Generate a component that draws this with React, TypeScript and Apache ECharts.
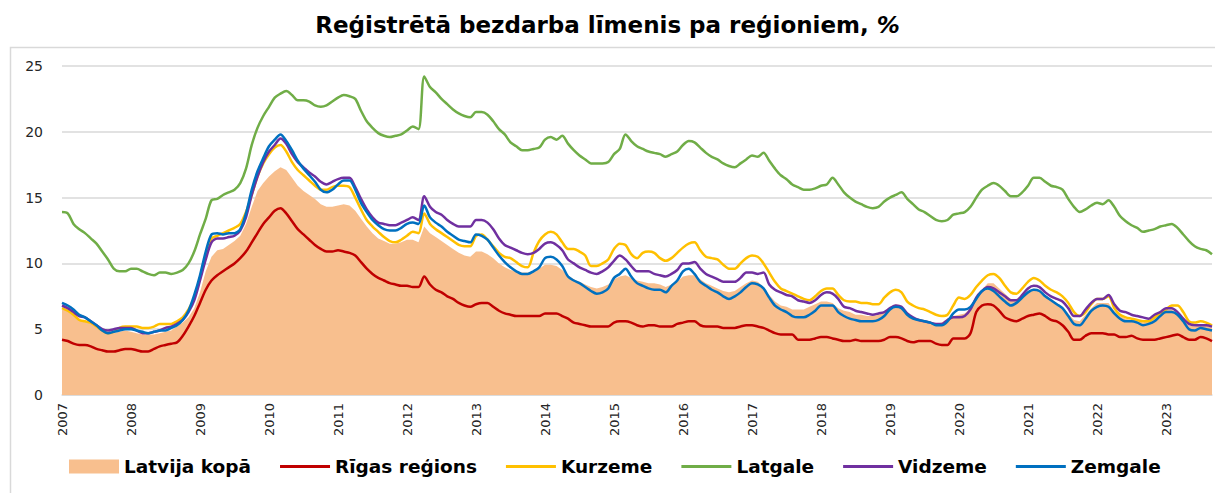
import React, { useEffect, useRef } from 'react';
import * as echarts from 'echarts';

const years = [2007, 2008, 2009, 2010, 2011, 2012, 2013, 2014, 2015, 2016, 2017, 2018, 2019, 2020, 2021, 2022, 2023];
const monthsInLastYear = 9;
const yTicks = { min: 0, max: 25, interval: 5 };

const latvijaKopa = [
  6.5, 6.5, 6.2, 5.8, 5.6, 5.5, 5.2, 4.9, 4.7, 4.7, 4.8, 4.9,
  4.8, 4.7, 4.6, 4.6, 4.6, 4.7, 4.8, 4.9, 5.2, 5.5, 5.9, 6.6,
  7.8, 9.4, 10.5, 11.0, 11.1, 11.4, 11.7, 12.1, 13.0, 14.3, 15.5, 16.1,
  16.6, 17.0, 17.3, 17.1, 16.5, 15.9, 15.5, 15.2, 14.9, 14.5, 14.3, 14.3,
  14.4, 14.5, 14.4, 14.0, 13.4, 12.8, 12.3, 11.9, 11.7, 11.5, 11.5, 11.6,
  11.8, 11.8, 11.6, 12.8, 12.3, 12.0, 11.7, 11.4, 11.1, 10.8, 10.6, 10.5,
  10.9, 10.9, 10.7, 10.4, 10.0, 9.7, 9.5, 9.4, 9.3, 9.3, 9.4, 9.6,
  9.9, 9.9, 9.8, 9.5, 9.1, 8.8, 8.6, 8.4, 8.2, 8.1, 8.2, 8.4,
  8.8, 9.0, 9.1, 8.9, 8.7, 8.6, 8.5, 8.5, 8.4, 8.2, 8.4, 8.6,
  9.0, 9.1, 9.1, 8.8, 8.5, 8.3, 8.1, 7.9, 7.8, 7.9, 8.2, 8.5,
  8.7, 8.6, 8.2, 7.6, 7.1, 6.8, 6.7, 6.5, 6.5, 6.5, 6.7, 6.9,
  7.1, 7.1, 7.0, 6.6, 6.4, 6.3, 6.1, 6.1, 6.0, 6.0, 6.1, 6.3,
  6.7, 6.9, 6.8, 6.2, 5.9, 5.8, 5.7, 5.6, 5.4, 5.5, 5.8, 6.0,
  6.1, 6.2, 6.6, 7.4, 8.0, 8.5, 8.5, 8.1, 7.7, 7.3, 7.3, 7.6,
  7.9, 8.1, 8.0, 7.6, 7.3, 7.0, 6.7, 6.2, 5.7, 5.6, 6.1, 6.6,
  7.0, 7.0, 7.0, 6.4, 6.0, 5.8, 5.7, 5.6, 5.5, 5.7, 5.9, 6.3,
  6.5, 6.5, 6.2, 5.7, 5.3, 5.2, 5.3, 5.3, 5.2,
];

const rigasRegions = [
  4.2, 4.1, 3.9, 3.8, 3.8, 3.7, 3.5, 3.4, 3.3, 3.3, 3.4, 3.5,
  3.5, 3.4, 3.3, 3.3, 3.5, 3.7, 3.8, 3.9, 4.0, 4.5, 5.2, 6.0,
  7.0, 8.0, 8.7, 9.1, 9.4, 9.7, 10.0, 10.4, 10.9, 11.6, 12.3, 13.0,
  13.5, 14.0, 14.2, 13.8, 13.2, 12.6, 12.2, 11.8, 11.4, 11.1, 10.9, 10.9,
  11.0, 10.9, 10.8, 10.6, 10.1, 9.6, 9.2, 8.9, 8.7, 8.5, 8.4, 8.3,
  8.3, 8.2, 8.2, 9.0, 8.4, 8.0, 7.8, 7.5, 7.3, 7.0, 6.8, 6.7,
  6.9, 7.0, 7.0, 6.7, 6.4, 6.2, 6.1, 6.0, 6.0, 6.0, 6.0, 6.0,
  6.2, 6.2, 6.2, 6.0, 5.8, 5.5, 5.4, 5.3, 5.2, 5.2, 5.2, 5.2,
  5.5, 5.6, 5.6, 5.5, 5.3, 5.2, 5.3, 5.3, 5.2, 5.2, 5.2, 5.4,
  5.5, 5.6, 5.6, 5.3, 5.2, 5.2, 5.2, 5.1, 5.1, 5.1, 5.2, 5.3,
  5.3, 5.2, 5.1, 4.9, 4.7, 4.6, 4.6, 4.6, 4.2, 4.2, 4.2, 4.3,
  4.4, 4.4, 4.3, 4.2, 4.1, 4.1, 4.2, 4.1, 4.1, 4.1, 4.1, 4.2,
  4.4, 4.4, 4.3, 4.1, 4.0, 4.1, 4.1, 4.1, 3.9, 3.8, 3.8, 4.3,
  4.3, 4.3, 4.7, 6.3, 6.8, 6.9, 6.8, 6.4, 5.9, 5.7, 5.6, 5.8,
  6.0, 6.1, 6.2, 6.0, 5.7, 5.6, 5.3, 4.8, 4.2, 4.2, 4.5, 4.7,
  4.7, 4.7, 4.6, 4.6, 4.4, 4.4, 4.5, 4.3, 4.2, 4.2, 4.2, 4.3,
  4.4, 4.5, 4.6, 4.4, 4.2, 4.2, 4.4, 4.3, 4.1,
];

const kurzeme = [
  6.6, 6.4, 6.1, 5.7, 5.6, 5.5, 5.2, 4.9, 4.7, 4.8, 5.1, 5.2,
  5.2, 5.2, 5.1, 5.1, 5.2, 5.4, 5.4, 5.4, 5.6, 5.9, 6.5, 7.4,
  8.9, 10.6, 11.9, 12.1, 12.3, 12.5, 12.7, 13.0, 13.9, 15.2, 16.6, 17.6,
  18.3, 18.8, 19.0, 18.5, 17.7, 17.1, 16.7, 16.3, 15.9, 15.6, 15.6, 15.8,
  15.9, 15.9, 15.8, 15.0, 14.1, 13.3, 12.8, 12.4, 12.0, 11.7, 11.6, 11.8,
  12.1, 12.4, 12.3, 13.8, 13.0, 12.6, 12.3, 12.0, 11.7, 11.4, 11.3, 11.3,
  12.1, 12.2, 11.8, 11.3, 10.8, 10.5, 10.4, 10.1, 9.8, 9.7, 10.8, 11.7,
  12.2, 12.4, 12.2, 11.6, 11.1, 11.1, 10.9, 10.6, 9.8, 9.8, 10.0, 10.3,
  11.1, 11.5, 11.4, 10.7, 10.4, 10.8, 10.9, 10.8, 10.4, 10.2, 10.4, 10.8,
  11.2, 11.5, 11.6, 11.0, 10.5, 10.4, 10.3, 9.9, 9.6, 9.6, 10.0, 10.4,
  10.6, 10.5, 10.0, 9.3, 8.6, 8.1, 7.9, 7.7, 7.5, 7.3, 7.2, 7.5,
  7.9, 8.1, 8.1, 7.6, 7.2, 7.1, 7.1, 7.0, 7.0, 6.9, 6.9, 7.4,
  7.8, 8.0, 7.8, 7.1, 6.8, 6.6, 6.5, 6.3, 6.1, 6.0, 6.1, 6.8,
  7.4, 7.3, 7.6, 8.2, 8.7, 9.1, 9.2, 8.9, 8.3, 7.8, 7.7, 8.1,
  8.6, 8.9, 8.7, 8.3, 8.0, 7.8, 7.5, 7.0, 6.3, 6.0, 6.3, 6.9,
  7.3, 7.3, 7.5, 6.6, 6.1, 5.9, 5.8, 5.7, 5.6, 5.6, 5.9, 6.2,
  6.5, 6.8, 6.8, 6.3, 5.6, 5.5, 5.6, 5.5, 5.3,
];

const latgale = [
  13.9, 13.8, 13.0, 12.6, 12.3, 11.9, 11.5, 10.9, 10.3, 9.6, 9.4, 9.4,
  9.6, 9.6, 9.4, 9.2, 9.1, 9.3, 9.3, 9.2, 9.3, 9.5, 10.0, 10.9,
  12.2, 13.4, 14.8, 14.9, 15.2, 15.4, 15.6, 16.1, 17.2, 19.0, 20.3, 21.2,
  21.9, 22.6, 22.9, 23.1, 22.8, 22.4, 22.4, 22.3, 22.0, 21.9, 22.0, 22.3,
  22.6, 22.8, 22.7, 22.5, 21.6, 20.8, 20.3, 19.9, 19.7, 19.6, 19.7, 19.8,
  20.1, 20.4, 20.2, 24.2, 23.4, 23.0, 22.5, 22.1, 21.7, 21.4, 21.2, 21.1,
  21.5, 21.5, 21.3, 20.8, 20.2, 19.8, 19.2, 18.9, 18.6, 18.6, 18.7, 18.8,
  19.4, 19.6, 19.4, 19.7, 19.1, 18.6, 18.2, 17.9, 17.6, 17.6, 17.6, 17.7,
  18.3, 18.7, 19.8, 19.3, 18.9, 18.7, 18.5, 18.4, 18.3, 18.1, 18.3, 18.5,
  19.0, 19.3, 19.2, 18.8, 18.4, 18.1, 17.9, 17.6, 17.4, 17.3, 17.6, 17.9,
  18.2, 18.1, 18.4, 17.8, 17.2, 16.7, 16.4, 16.0, 15.8, 15.6, 15.6, 15.7,
  15.9, 16.0, 16.5, 16.0, 15.4, 15.0, 14.7, 14.5, 14.3, 14.2, 14.3, 14.7,
  15.0, 15.2, 15.4, 14.9, 14.5, 14.1, 13.9, 13.6, 13.3, 13.2, 13.3, 13.7,
  13.8, 13.9, 14.3, 15.0, 15.6, 15.9, 16.1, 15.9, 15.5, 15.1, 15.1, 15.4,
  15.9, 16.5, 16.5, 16.2, 15.9, 15.8, 15.6, 14.9, 14.3, 13.9, 14.1, 14.4,
  14.6, 14.5, 14.8, 14.3, 13.6, 13.2, 12.9, 12.7, 12.4, 12.5, 12.6, 12.8,
  12.9, 13.0, 12.7, 12.2, 11.7, 11.3, 11.1, 11.0, 10.7,
];

const vidzeme = [
  6.8, 6.6, 6.3, 6.0, 5.9, 5.6, 5.3, 5.0, 4.9, 5.0, 5.1, 5.1,
  5.1, 4.9, 4.7, 4.7, 4.8, 4.9, 5.1, 5.2, 5.4, 5.7, 6.3, 7.2,
  8.7, 10.3, 11.6, 11.9, 11.9, 12.0, 12.1, 12.5, 13.5, 15.2, 16.6, 17.7,
  18.5, 19.0, 19.5, 19.1, 18.3, 17.7, 17.3, 16.9, 16.6, 16.2, 16.0, 16.2,
  16.4, 16.5, 16.5, 15.8, 14.9, 14.1, 13.5, 13.1, 13.0, 12.9, 12.9, 13.1,
  13.3, 13.5, 13.3, 15.1, 14.3, 13.9, 13.7, 13.3, 13.0, 12.8, 12.8, 12.8,
  13.3, 13.3, 13.1, 12.6, 11.9, 11.4, 11.2, 11.0, 10.8, 10.7, 10.8, 11.1,
  11.5, 11.6, 11.4, 11.0, 10.3, 10.0, 9.7, 9.5, 9.3, 9.2, 9.4, 9.7,
  10.2, 10.6, 10.3, 9.8, 9.4, 9.4, 9.4, 9.2, 9.1, 9.0, 9.2, 9.5,
  10.0, 10.0, 10.1, 9.6, 9.2, 9.0, 8.8, 8.6, 8.6, 8.6, 8.9, 9.3,
  9.3, 9.2, 9.3, 8.4, 8.0, 7.8, 7.6, 7.5, 7.2, 7.1, 7.0, 7.2,
  7.6, 7.8, 7.7, 7.3, 6.7, 6.6, 6.4, 6.3, 6.2, 6.1, 6.2, 6.3,
  6.6, 6.8, 6.7, 6.2, 5.9, 5.7, 5.6, 5.5, 5.4, 5.4, 5.7, 5.9,
  5.9, 6.0, 6.5, 7.4, 7.9, 8.2, 8.1, 7.8, 7.5, 7.2, 7.2, 7.6,
  8.1, 8.3, 8.2, 7.8, 7.5, 7.3, 7.1, 6.6, 6.0, 6.0, 6.5, 7.0,
  7.3, 7.3, 7.6, 6.9, 6.4, 6.3, 6.1, 6.0, 5.9, 5.8, 6.1, 6.3,
  6.6, 6.6, 6.3, 5.8, 5.4, 5.3, 5.3, 5.3, 5.2,
];

const zemgale = [
  7.0, 6.8, 6.5, 6.1, 5.9, 5.6, 5.3, 4.9, 4.7, 4.8, 4.9, 5.0,
  5.0, 4.9, 4.8, 4.7, 4.8, 4.9, 4.9, 5.1, 5.3, 5.7, 6.4, 7.6,
  9.1, 10.9, 12.2, 12.3, 12.2, 12.3, 12.3, 12.6, 13.8, 15.6, 17.0, 18.0,
  18.9, 19.4, 19.8, 19.3, 18.6, 17.8, 17.2, 16.7, 16.2, 15.6, 15.4, 15.6,
  16.0, 16.3, 16.3, 15.6, 14.6, 13.9, 13.3, 12.9, 12.6, 12.5, 12.5, 12.7,
  13.0, 13.1, 13.0, 14.4, 13.5, 13.1, 12.8, 12.4, 12.1, 11.8, 11.7, 11.6,
  12.2, 12.1, 11.8, 11.2, 10.6, 10.1, 9.7, 9.4, 9.2, 9.2, 9.4, 9.7,
  10.4, 10.5, 10.3, 9.8, 9.0, 8.7, 8.5, 8.2, 7.9, 7.7, 7.8, 8.1,
  8.9, 9.2, 9.6, 9.0, 8.5, 8.3, 8.1, 8.0, 8.0, 7.8, 8.3, 8.7,
  9.4, 9.6, 9.2, 8.6, 8.3, 8.0, 7.8, 7.5, 7.3, 7.5, 7.8, 8.2,
  8.5, 8.4, 8.1, 7.4, 6.8, 6.5, 6.3, 6.0, 5.9, 5.9, 6.1, 6.4,
  6.8, 6.8, 6.8, 6.3, 6.0, 5.8, 5.7, 5.6, 5.6, 5.6, 5.7, 6.0,
  6.5, 6.7, 6.6, 6.1, 5.8, 5.7, 5.6, 5.5, 5.3, 5.3, 5.6, 6.2,
  6.5, 6.5, 6.7, 7.3, 7.9, 8.1, 7.9, 7.5, 7.1, 6.8, 7.0, 7.4,
  7.8, 8.0, 7.9, 7.5, 7.2, 6.9, 6.6, 6.0, 5.4, 5.3, 5.8, 6.4,
  6.7, 6.8, 6.7, 6.2, 5.8, 5.6, 5.6, 5.5, 5.3, 5.4, 5.6, 6.0,
  6.3, 6.3, 6.1, 5.6, 5.0, 4.9, 5.1, 5.0, 4.9,
];

const categories: string[] = [];
years.forEach((y, yi) => {
  const n = yi === years.length - 1 ? monthsInLastYear : 12;
  for (let m = 1; m <= n; m++) categories.push(`${y}-${String(m).padStart(2, '0')}`);
});

const FONT = '"DejaVu Sans", Verdana, sans-serif';
const AREA_COLOR = '#F8BF8E';
const LINE_ICON = 'path://M0,0 L50,0 L50,3 L0,3 Z';
const lineSeries = [
  { name: 'Rīgas reģions', data: rigasRegions, color: '#C00000' },
  { name: 'Kurzeme', data: kurzeme, color: '#FFC000' },
  { name: 'Latgale', data: latgale, color: '#70AD47' },
  { name: 'Vidzeme', data: vidzeme, color: '#7030A0' },
  { name: 'Zemgale', data: zemgale, color: '#0070C0' },
];

export default function App() {
  const ref = useRef<HTMLDivElement>(null);
  useEffect(() => {
    if (!ref.current) return;
    const chart = echarts.init(ref.current, null, { renderer: 'svg' });
    chart.setOption({
      animation: false,
      backgroundColor: '#ffffff',
      textStyle: { fontFamily: FONT },
      title: {
        text: '{b|Reģistrētā bezdarba līmenis pa reģioniem, }{i|%}',
        left: 'center',
        top: 8,
        textStyle: {
          rich: {
            b: { fontFamily: FONT, fontWeight: 'bold', fontSize: 23, color: '#000' },
            i: { fontFamily: FONT, fontStyle: 'italic', fontSize: 23, color: '#000' },
          },
        },
      },
      graphic: [
        {
          type: 'rect',
          left: 8,
          top: 45,
          shape: { width: 1230, height: 470 },
          style: { fill: 'none', stroke: '#D9D9D9', lineWidth: 1.5 },
          silent: true,
          z: 0,
        },
      ],
      grid: { left: 62, right: 3, top: 66, bottom: 98, containLabel: false },
      xAxis: {
        type: 'category',
        data: categories,
        boundaryGap: false,
        axisLine: { show: true, lineStyle: { color: '#D9D9D9', width: 1.5 } },
        axisTick: { show: false },
        axisLabel: {
          rotate: 90,
          interval: (idx: number) => idx % 12 === 0,
          formatter: (v: string) => v.slice(0, 4),
          fontSize: 13,
          color: '#262626',
          fontFamily: FONT,
          margin: 8,
        },
        splitLine: { show: false },
      },
      yAxis: {
        type: 'value',
        min: yTicks.min,
        max: yTicks.max,
        interval: yTicks.interval,
        axisLine: { show: false },
        axisTick: { show: false },
        axisLabel: { fontSize: 14, color: '#262626', fontFamily: FONT, margin: 19 },
        splitLine: { lineStyle: { color: '#D9D9D9', width: 1.5 } },
      },
      legend: {
        bottom: 12,
        left: 64,
        itemWidth: 50,
        itemHeight: 14,
        itemGap: 29,
        textStyle: { fontFamily: FONT, fontWeight: 'bold', fontSize: 18.5, color: '#000' },
        data: [
          { name: 'Latvija kopā', icon: 'rect' },
          ...lineSeries.map((s) => ({ name: s.name, icon: LINE_ICON })),
        ],
      },
      series: [
        {
          name: 'Latvija kopā',
          type: 'line',
          data: latvijaKopa,
          symbol: 'none',
          lineStyle: { width: 0, color: AREA_COLOR },
          itemStyle: { color: AREA_COLOR },
          areaStyle: { color: AREA_COLOR, opacity: 1 },
          z: 1,
        },
        ...lineSeries.map((s, i) => ({
          name: s.name,
          type: 'line',
          data: s.data,
          symbol: 'none',
          smooth: 0.3,
          lineStyle: { width: 2.5, color: s.color },
          itemStyle: { color: s.color },
          z: 2 + i,
        })),
      ],
    });
    return () => chart.dispose();
  }, []);
  return (
    <div
      ref={ref}
      style={{ position: 'fixed', left: 0, top: 0, width: 1215, height: 493, background: '#fff' }}
    />
  );
}
